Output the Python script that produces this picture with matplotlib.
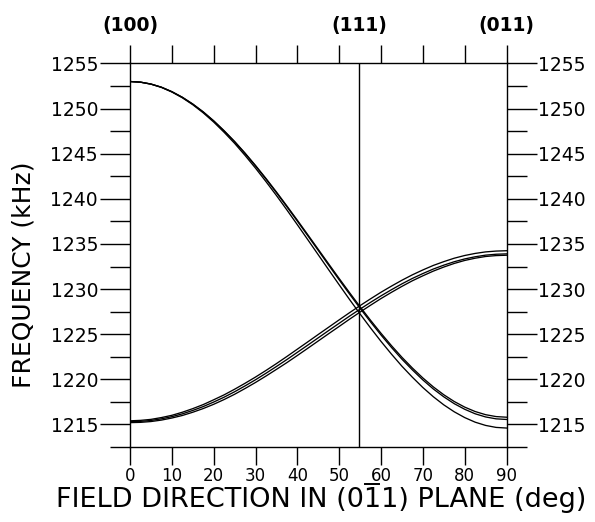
import matplotlib
matplotlib.use("Agg")
import matplotlib.pyplot as plt
import matplotlib.transforms as mtransforms
from matplotlib.lines import Line2D

# ---- data ----
angle = [0, 2.5, 5, 7.5, 10, 12.5, 15, 17.5, 20, 22.5, 25, 27.5, 30, 32.5, 35, 37.5,
         40, 42.5, 45, 47.5, 50, 52.5, 55, 57.5, 60, 62.5, 65, 67.5, 70, 72.5, 75,
         77.5, 80, 82.5, 85, 87.5, 90]

# descending band (three traces)
desc_1 = [1253.00, 1252.93, 1252.72, 1252.37, 1251.88, 1251.26, 1250.51, 1249.64, 1248.65,
          1247.55, 1246.36, 1245.07, 1243.70, 1242.26, 1240.76, 1239.21, 1237.63, 1236.02,
          1234.40, 1232.78, 1231.17, 1229.59, 1228.04, 1226.54, 1225.10, 1223.73, 1222.44,
          1221.25, 1220.15, 1219.16, 1218.29, 1217.54, 1216.92, 1216.43, 1216.08, 1215.87,
          1215.80]
desc_2 = [1253.00, 1252.93, 1252.72, 1252.37, 1251.87, 1251.25, 1250.49, 1249.62, 1248.62,
          1247.51, 1246.32, 1245.02, 1243.64, 1242.19, 1240.68, 1239.12, 1237.53, 1235.91,
          1234.28, 1232.64, 1231.02, 1229.43, 1227.87, 1226.36, 1224.91, 1223.53, 1222.23,
          1221.04, 1219.93, 1218.93, 1218.06, 1217.30, 1216.68, 1216.18, 1215.83, 1215.62,
          1215.55]
desc_3 = [1253.00, 1252.93, 1252.71, 1252.35, 1251.84, 1251.20, 1250.43, 1249.53, 1248.51,
          1247.37, 1246.15, 1244.81, 1243.40, 1241.91, 1240.37, 1238.77, 1237.13, 1235.47,
          1233.80, 1232.13, 1230.47, 1228.83, 1227.24, 1225.69, 1224.20, 1222.79, 1221.45,
          1220.23, 1219.09, 1218.07, 1217.17, 1216.40, 1215.76, 1215.25, 1214.89, 1214.67,
          1214.60]

# ascending band (three traces)
asc_top = [1215.40, 1215.45, 1215.56, 1215.76, 1216.01, 1216.35, 1216.75, 1217.20, 1217.73,
           1218.28, 1218.90, 1219.56, 1220.25, 1220.98, 1221.74, 1222.53, 1223.34, 1224.15,
           1224.97, 1225.78, 1226.59, 1227.39, 1228.17, 1228.92, 1229.65, 1230.33, 1230.98,
           1231.58, 1232.12, 1232.62, 1233.04, 1233.42, 1233.72, 1233.95, 1234.12, 1234.21,
           1234.25]
asc_mid = [1215.30, 1215.34, 1215.44, 1215.62, 1215.86, 1216.17, 1216.55, 1216.98, 1217.48,
           1218.02, 1218.62, 1219.27, 1219.95, 1220.67, 1221.42, 1222.19, 1222.99, 1223.79,
           1224.60, 1225.41, 1226.21, 1227.01, 1227.78, 1228.53, 1229.25, 1229.93, 1230.58,
           1231.18, 1231.72, 1232.22, 1232.65, 1233.03, 1233.34, 1233.58, 1233.76, 1233.86,
           1233.90]
asc_low = [1215.20, 1215.23, 1215.32, 1215.48, 1215.71, 1215.99, 1216.35, 1216.76, 1217.23,
           1217.76, 1218.34, 1218.98, 1219.65, 1220.36, 1221.10, 1221.85, 1222.64, 1223.44,
           1224.25, 1225.06, 1225.86, 1226.67, 1227.45, 1228.21, 1228.95, 1229.64, 1230.30,
           1230.92, 1231.47, 1231.99, 1232.44, 1232.84, 1233.17, 1233.42, 1233.61, 1233.71,
           1233.75]

x_ticks = [0, 10, 20, 30, 40, 50, 60, 70, 80, 90]
y_major = [1215, 1220, 1225, 1230, 1235, 1240, 1245, 1250, 1255]
y_minor = [1212.5, 1217.5, 1222.5, 1227.5, 1232.5, 1237.5, 1242.5, 1247.5, 1252.5]
magic_angle = 54.74
dir_labels = ["(100)", "(111)", "(011)"]
dir_pos = [0, 54.74, 90]
xlabel_text = "FIELD DIRECTION IN (011) PLANE (deg)"
bar_prefix = "FIELD DIRECTION IN (0"   # the next character "1" carries the overbar

fig = plt.figure(figsize=(5.95, 5.22), dpi=100)
ax = fig.add_axes([0.2185, 0.1437, 0.6328, 0.7347])

for series in (desc_1, desc_2, desc_3, asc_top, asc_mid, asc_low):
    ax.plot(angle, series, color="black", lw=0.95)
ax.axvline(magic_angle, color="black", lw=1.0)

ax.set_xlim(0, 90)
ax.set_ylim(1212.5, 1255)

for s in ax.spines.values():
    s.set_linewidth(1.0)

ax.set_xticks(x_ticks)
ax.set_xticklabels([str(v) for v in x_ticks])
ax.set_yticks(y_major)
ax.set_yticklabels([str(v) for v in y_major])
ax.set_yticks(y_minor, minor=True)

ax.tick_params(axis="x", which="major", direction="out", top=True, bottom=True,
               labeltop=False, length=13, width=1.0, labelsize=12, pad=1.5)
ax.tick_params(axis="y", which="major", direction="out", left=True, right=True,
               labelleft=True, labelright=True, length=21.5, width=1.0,
               labelsize=13.5, pad=1.5)
ax.tick_params(axis="y", which="minor", direction="out", left=True, right=True,
               length=14.5, width=1.0)

trans = mtransforms.blended_transform_factory(ax.transData, fig.transFigure)
for lbl, xp in zip(dir_labels, dir_pos):
    ax.text(xp, 0.952, lbl, transform=trans, ha="center", va="center",
            fontsize=13.5, fontweight="bold")

fig.text(0.039, 0.473, "FREQUENCY (kHz)", rotation=90, ha="center", va="center",
         fontsize=18)

xl_fs = 19.5
xl_y = 0.0287
xl = fig.text(0.539, xl_y, xlabel_text, ha="center", va="baseline", fontsize=xl_fs)

# overbar on the first "1" of (011)
renderer = fig.canvas.get_renderer()
full_bb = xl.get_window_extent(renderer)
tmp_pre = fig.text(0, 0, bar_prefix, fontsize=xl_fs)
tmp_one = fig.text(0, 0, bar_prefix + "1", fontsize=xl_fs)
w_pre = tmp_pre.get_window_extent(renderer).width
w_one = tmp_one.get_window_extent(renderer).width
tmp_pre.remove()
tmp_one.remove()
x0 = full_bb.x0 + w_pre + 2
x1 = full_bb.x0 + w_one - 2
cap_px = 0.729 * xl_fs * fig.dpi / 72.0
ybar = xl_y * fig.bbox.height + cap_px + 3
fig.add_artist(Line2D([x0, x1], [ybar, ybar], transform=None, color="black", lw=1.4))

fig.savefig("out.png", dpi=100)
